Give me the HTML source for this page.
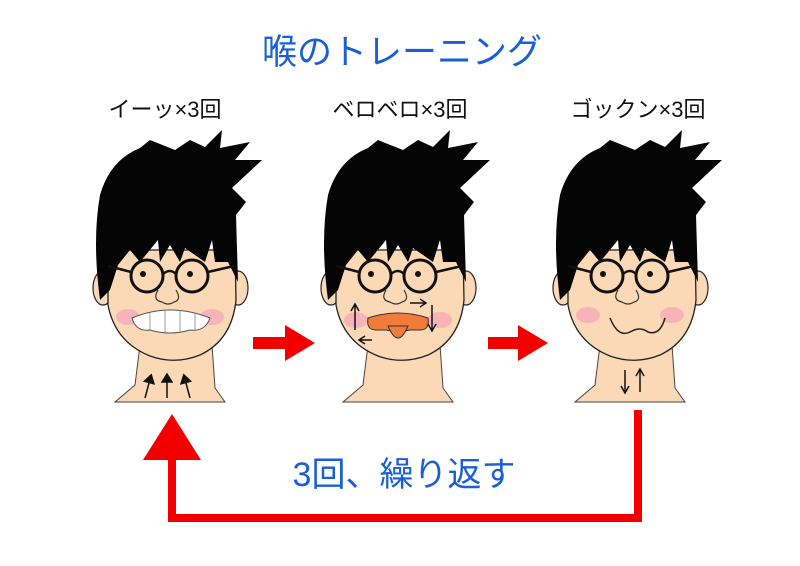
<!DOCTYPE html>
<html><head><meta charset="utf-8"><style>
body{margin:0;background:#fff;}
svg{display:block;}
text{font-family:"Liberation Sans","Noto Sans CJK JP",sans-serif;}
</style></head><body>
<svg width="800" height="566" viewBox="0 0 800 566" xmlns="http://www.w3.org/2000/svg">
<defs>
<g id="face">
  <path d="M140,345 L135,385 L115,402 L225,402 L215,388 L212,345 Z" fill="#fcd9b6" stroke="#444" stroke-width="1"/>
  <ellipse cx="103" cy="288" rx="10" ry="17" fill="#fcd9b6" stroke="#222" stroke-width="1.2"/>
  <ellipse cx="238" cy="288" rx="10" ry="17" fill="#fcd9b6" stroke="#222" stroke-width="1.2"/>
  <path d="M108,250 L235,250 L236,300 Q232,340 200,355 Q175,365 150,356 Q115,342 108,305 Z" fill="#fcd9b6" stroke="#222" stroke-width="1.3"/>
  <path d="M100,300 Q92,240 100,195 Q110,160 140,148 L150,140 L175,150 L190,140 L205,147 L222,130 L220,148 L250,142 L235,160 L262,160 L232,188 L246,202 L236,215 L238,282 L228,262 L215,262 L212,240 L205,262 L185,248 L180,262 L170,245 L160,262 L158,240 L140,262 L130,250 L118,265 L110,290 Z" fill="#050505"/>
  <circle cx="147" cy="276" r="16" fill="none" stroke="#111" stroke-width="3"/>
  <circle cx="192" cy="276" r="16" fill="none" stroke="#111" stroke-width="3"/>
  <path d="M163,274 Q170,268 176,274 M131,272 L108,266 M208,272 L234,266" stroke="#111" stroke-width="2.5" fill="none"/>
  <circle cx="143" cy="274" r="3" fill="#111"/><circle cx="190" cy="274" r="3" fill="#111"/>
  <path d="M158,290 Q152,300 162,302 Q168,306 174,302 Q182,300 176,290" fill="none" stroke="#333" stroke-width="1.2"/>
</g>
<g id="arr"><path d="M0,0 L0,-22 M-5,-16 L0,-24 L5,-16 Z" stroke="#111" stroke-width="1.5" fill="#111"/></g>
</defs>

<text x="402" y="64" font-size="35" fill="#1a5fd6" text-anchor="middle">喉のトレーニング</text>
<text x="165" y="117" font-size="22" fill="#111" text-anchor="middle">イーッ×3回</text>
<text x="400" y="117" font-size="22" fill="#111" text-anchor="middle">ベロベロ×3回</text>
<text x="638" y="117" font-size="22" fill="#111" text-anchor="middle">ゴックン×3回</text>

<use href="#face"/>
<ellipse cx="128" cy="317" rx="12" ry="8" fill="#f6b3b8"/>
<ellipse cx="212" cy="317" rx="12" ry="8" fill="#f6b3b8"/>
<path d="M132,318 Q170,302 210,318 Q205,332 190,330 Q170,336 150,330 Q136,332 132,318 Z" fill="#fff" stroke="#555" stroke-width="1"/>
<path d="M150,313 L150,330 M165,310 L165,332 M180,310 L180,332 M195,313 L195,330" stroke="#888" stroke-width="0.8"/>
<use href="#arr" transform="translate(145,398) rotate(15)"/>
<use href="#arr" transform="translate(167,398)"/>
<use href="#arr" transform="translate(190,398) rotate(-15)"/>

<use href="#face" transform="translate(228,0)"/>
<ellipse cx="356" cy="320" rx="12" ry="8" fill="#f6b3b8"/>
<ellipse cx="440" cy="320" rx="12" ry="8" fill="#f6b3b8"/>
<path d="M368,318 Q398,308 428,318 Q430,330 420,330 L410,330 Q398,333 386,330 L376,330 Q366,330 368,318 Z" fill="#f07b3a" stroke="#333" stroke-width="1"/>
<path d="M388,326 Q398,350 408,326 Z" fill="#f07b3a" stroke="#333" stroke-width="1"/>
<path d="M355,330 L355,305 M351,311 L355,304 L359,311" stroke="#111" stroke-width="1.5" fill="none"/>
<path d="M432,305 L432,330 M428,324 L432,331 L436,324" stroke="#111" stroke-width="1.5" fill="none"/>
<path d="M372,340 L360,340 M365,336 L359,340 L365,344" stroke="#111" stroke-width="1.5" fill="none"/>
<path d="M410,303 L425,303 M420,299 L426,303 L420,307" stroke="#111" stroke-width="1.5" fill="none"/>

<use href="#face" transform="translate(460,0)"/>
<ellipse cx="588" cy="315" rx="12" ry="8" fill="#f6b3b8"/>
<ellipse cx="672" cy="315" rx="12" ry="8" fill="#f6b3b8"/>
<path d="M610,318 Q618,338 630,332 Q640,326 648,332 Q660,336 665,318" fill="none" stroke="#222" stroke-width="1.5"/>
<path d="M625,370 L625,392 M621,386 L625,393 L629,386" stroke="#111" stroke-width="1.5" fill="none"/>
<path d="M640,392 L640,370 M636,376 L640,369 L644,376" stroke="#111" stroke-width="1.5" fill="none"/>

<path d="M253,337 L285,337 L285,325 L315,343 L285,361 L285,349 L253,349 Z" fill="#f20000"/>
<path d="M488,337 L518,337 L518,325 L548,343 L518,361 L518,349 L488,349 Z" fill="#f20000"/>
<path d="M638,410 L638,518 L172,518 L172,458" fill="none" stroke="#f20000" stroke-width="8"/>
<path d="M143,460 L172,414 L201,460 Z" fill="#f20000"/>

<text x="404" y="486" font-size="34" fill="#1a5fd6" text-anchor="middle">3回、繰り返す</text>
</svg>
</body></html>
